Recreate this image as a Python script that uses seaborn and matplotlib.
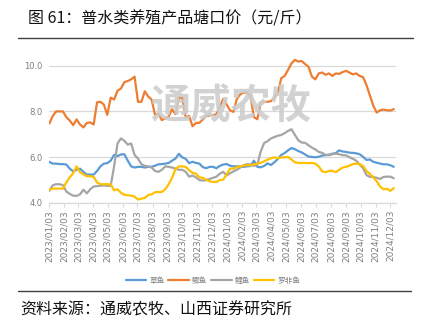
import numpy as np
import pandas as pd
import matplotlib
matplotlib.use("Agg")
import matplotlib.pyplot as plt
import matplotlib.dates as mdates
from matplotlib.lines import Line2D
import seaborn as sns

# ---------------- data ----------------
dates = pd.date_range("2023-01-03", periods=102, freq="7D")

grass_carp = [5.8, 5.72, 5.72, 5.7, 5.7, 5.68, 5.5, 5.38, 5.45, 5.5,
              5.36, 5.24, 5.24, 5.24, 5.4, 5.6, 5.72, 5.74, 5.85, 6.1,
              6.05, 6.12, 6.13, 5.85, 5.6, 5.55, 5.58, 5.58, 5.55, 5.58,
              5.58, 5.63, 5.69, 5.7, 5.72, 5.75, 5.85, 5.94, 6.15, 5.99,
              5.93, 5.74, 5.8, 5.75, 5.72, 5.57, 5.52, 5.58, 5.58, 5.52,
              5.62, 5.68, 5.7, 5.63, 5.6, 5.6, 5.6, 5.58, 5.6, 5.62,
              5.85, 5.58, 5.56, 5.62, 5.73, 5.66, 5.78, 5.92, 6.1, 6.18,
              6.3, 6.4, 6.35, 6.27, 6.21, 6.12, 6.03, 6.01, 6.0, 6.02,
              6.07, 6.09, 6.11, 6.15, 6.18, 6.3, 6.25, 6.23, 6.2, 6.19,
              6.17, 6.13, 6.02, 5.88, 5.9, 5.8, 5.76, 5.72, 5.69, 5.69,
              5.65, 5.58]

crucian_carp = [7.47, 7.8, 8.0, 8.0, 8.0, 7.75, 7.6, 7.4, 7.65, 7.43,
                7.3, 7.5, 7.52, 7.43, 8.4, 8.42, 8.3, 7.85, 8.6, 8.52,
                8.9, 9.0, 9.28, 9.33, 9.4, 9.52, 8.42, 8.42, 8.88, 8.65,
                8.52, 7.85, 7.9, 7.62, 7.7, 7.77, 8.1, 7.88, 8.6, 8.6,
                7.74, 7.8, 7.35, 7.5, 7.5, 7.65, 7.8, 7.82, 7.84, 7.88,
                8.2, 8.55, 8.3, 8.05, 7.98, 8.55, 8.75, 8.82, 8.82, 8.65,
                7.75, 7.66, 8.4, 8.42, 8.42, 8.45, 8.6, 8.79, 9.45, 9.55,
                9.81, 10.1, 10.25, 10.18, 10.2, 10.07, 9.95, 9.52, 9.4, 9.66,
                9.7, 9.6, 9.66, 9.55, 9.66, 9.64, 9.72, 9.77, 9.7, 9.62,
                9.66, 9.55, 9.5, 9.15, 8.7, 8.25, 7.95, 8.05, 8.08, 8.05,
                8.04, 8.1]

common_carp = [4.53, 4.77, 4.82, 4.82, 4.78, 4.5, 4.4, 4.32, 4.31, 4.38,
               4.58, 4.42, 4.6, 4.72, 4.74, 4.75, 4.77, 4.75, 4.75, 5.6,
               6.6, 6.82, 6.72, 6.55, 6.6, 6.1, 5.94, 5.7, 5.62, 5.6,
               5.55, 5.4, 5.36, 5.45, 5.6, 5.58, 5.55, 5.5, 5.45, 5.45,
               5.36, 5.15, 5.2, 5.12, 5.0, 4.98, 5.0, 5.05, 5.1, 5.15,
               5.28, 5.36, 5.2, 5.3, 5.38, 5.45, 5.55, 5.65, 5.7, 5.68,
               5.62, 5.68, 6.25, 6.62, 6.7, 6.82, 6.88, 6.94, 6.97, 7.05,
               7.15, 7.22, 6.98, 6.74, 6.64, 6.63, 6.52, 6.42, 6.34, 6.23,
               6.19, 6.1, 6.09, 6.13, 6.16, 6.13, 6.09, 6.08, 6.0, 5.93,
               5.85, 5.68, 5.52, 5.22, 5.14, 5.14, 5.1, 5.05, 5.14, 5.15,
               5.15, 5.08]

tilapia = [4.58, 4.63, 4.63, 4.63, 4.63, 4.9, 5.12, 5.3, 5.6, 5.35,
           5.25, 5.17, 5.17, 5.14, 4.9, 4.82, 4.82, 4.82, 4.82, 4.55,
           4.6, 4.45, 4.36, 4.34, 4.32, 4.28, 4.15, 4.19, 4.22, 4.35,
           4.38, 4.47, 4.48, 4.48, 4.6, 4.82, 5.1, 5.48, 5.6, 5.6,
           5.58, 5.43, 5.32, 5.28, 5.12, 5.1, 5.02, 4.95, 4.92, 4.92,
           5.0, 5.02, 5.25, 5.5, 5.5, 5.57, 5.6, 5.64, 5.65, 5.65,
           5.69, 5.72, 5.76, 5.82, 5.9, 5.95, 6.0, 5.95, 5.99, 6.0,
           6.01, 5.9, 5.78, 5.75, 5.75, 5.75, 5.74, 5.75, 5.72, 5.6,
           5.38, 5.35, 5.4, 5.4, 5.35, 5.45, 5.55, 5.58, 5.63, 5.7,
           5.72, 5.7, 5.62, 5.4, 5.27, 5.12, 4.95, 4.72, 4.6, 4.62,
           4.53, 4.65]

series_names = ["草鱼", "鲫鱼", "鲤鱼", "罗非鱼"]
series_colors = ["#5B9BD5", "#ED7D31", "#A5A5A5", "#FFC000"]
y_ticks = [4.0, 6.0, 8.0, 10.0]

title_text = "图 61：普水类养殖产品塘口价（元/斤）"
source_text = "资料来源：通威农牧、山西证券研究所"
watermark_text = "通威农牧"

# ---------------- frame ----------------
df = pd.concat([
    pd.DataFrame({"date": dates, "price": vals, "fish": name})
    for name, vals in zip(series_names, [grass_carp, crucian_carp, common_carp, tilapia])
], ignore_index=True)

sns.set_theme(style="white")
plt.rcParams["font.family"] = ["DejaVu Sans", "Noto Sans CJK SC"]

W, H = 421, 331
fig = plt.figure(figsize=(W / 100, H / 100), dpi=100)
fig.patch.set_facecolor("white")

ax_left, ax_right = 49.3, 395.7
ax_top, ax_bottom = 54.2, 203.0
ax = fig.add_axes([ax_left / W, 1 - ax_bottom / H,
                   (ax_right - ax_left) / W, (ax_bottom - ax_top) / H])

# watermark behind lines
fig.text(231 / W, 1 - 106 / H, watermark_text, fontsize=29, fontweight="bold",
         color="#CDCDCD", ha="center", va="center",
         family=["Noto Sans CJK SC"], zorder=0, alpha=0.9)
ax.patch.set_alpha(0)

sns.lineplot(data=df, x="date", y="price", hue="fish", hue_order=series_names,
             palette=series_colors, linewidth=1.6, ax=ax, legend=True)

ax.set_ylim(4.0, 10.5)
ax.set_xlim(pd.Timestamp("2023-01-03"), pd.Timestamp("2024-12-14"))
ax.set_yticks(y_ticks)
ax.set_yticklabels([f"{v:.1f}" for v in y_ticks])
ax.yaxis.grid(True, color="#D9D9D9", linewidth=0.9)
ax.set_axisbelow(True)
ax.set_xlabel("")
ax.set_ylabel("")

ax.xaxis.set_major_locator(mdates.MonthLocator(bymonthday=3))
ax.xaxis.set_major_formatter(mdates.DateFormatter("%Y/%m/%d"))
ax.tick_params(axis="x", which="major", length=3, width=0.8, color="#D9D9D9",
               labelsize=6.5, labelcolor="#7F7F7F", rotation=90, pad=2, bottom=True)
ax.tick_params(axis="y", length=0, labelsize=6, labelcolor="#7F7F7F", pad=5)

for side in ["top", "right", "left"]:
    ax.spines[side].set_visible(False)
ax.spines["bottom"].set_color("#D9D9D9")
ax.spines["bottom"].set_linewidth(0.9)

sns.move_legend(ax, loc="center", bbox_to_anchor=(213 / W, 1 - 280.5 / H),
                bbox_transform=fig.transFigure, ncol=4, frameon=False, title=None,
                fontsize=5.5, handlelength=2.7, handletextpad=0.4, columnspacing=0.5)
for t in ax.get_legend().get_texts():
    t.set_color("#7F7F7F")
    t.set_family(["Noto Sans CJK SC"])
for h in ax.get_legend().legend_handles:
    h.set_linewidth(1.6)

# title and source with rules
fig.text(28 / W, 1 - 18.5 / H, title_text, fontsize=11.5, color="#111111",
         ha="left", va="center", family=["Noto Sans CJK SC", "DejaVu Sans"])
fig.add_artist(Line2D([18 / W, 413 / W], [1 - 38.3 / H, 1 - 38.3 / H],
                      color="#404040", linewidth=1.0, transform=fig.transFigure))
fig.add_artist(Line2D([18 / W, 411 / W], [1 - 291 / H, 1 - 291 / H],
                      color="#404040", linewidth=1.0, transform=fig.transFigure))
fig.text(20 / W, 1 - 310 / H, source_text, fontsize=11.5, color="#111111",
         ha="left", va="center", family=["Noto Sans CJK SC", "DejaVu Sans"])

fig.savefig("out.png", dpi=100, facecolor="white")
